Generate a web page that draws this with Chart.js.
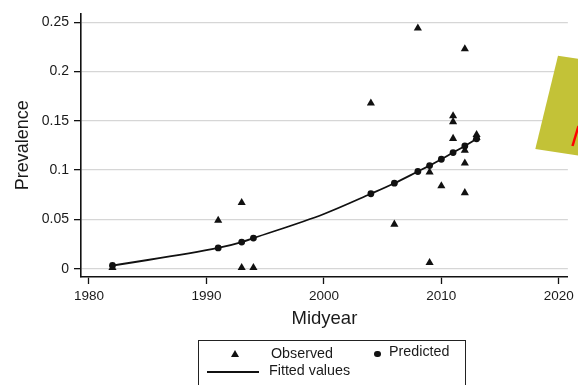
<!DOCTYPE html>
<html>
<head>
<meta charset="utf-8">
<script src="https://cdn.jsdelivr.net/npm/chart.js@4"></script>
<style>
  body { margin: 0; background: #fff; font-family: "Liberation Sans", Arial, sans-serif; }
  #wrap { position: relative; width: 578px; height: 385px; overflow: hidden; }
  #myChart { position: absolute; left: 0; top: 0; }
  .lg { position: absolute; color: #1a1a1a; font-size: 14.3px; line-height: 14px; white-space: nowrap; }
  #legendBox { position: absolute; left: 198px; top: 340px; width: 268px; height: 60px; border: 1.3px solid #222; box-sizing: border-box; }
  #tri { position: absolute; left: 230.5px; top: 350px; width: 0; height: 0;
         border-left: 4px solid transparent; border-right: 4px solid transparent; border-bottom: 7px solid #111; }
  #dot { position: absolute; left: 374px; top: 350.5px; width: 6.5px; height: 6.5px; border-radius: 50%; background: #111; }
  #ln { position: absolute; left: 207px; top: 371.3px; width: 52px; height: 2px; background: #111; }
  #deco { position: absolute; left: 0; top: 0; pointer-events: none; }
</style>
</head>
<body>
<div id="wrap">
  <canvas id="myChart" width="578" height="385"></canvas>
  <svg id="deco" width="578" height="385">
    <polygon points="558,55.7 610,63.5 610,160.2 535.3,149" fill="#c3c237"/>
    <line x1="572.5" y1="146" x2="578.5" y2="126" stroke="#ff0000" stroke-width="2.5"/>
  </svg>
  <div id="legendBox"></div>
  <div id="tri"></div>
  <span class="lg" style="left:271px; top:345.5px;">Observed</span>
  <div id="dot"></div>
  <span class="lg" style="left:389px; top:344px;">Predicted</span>
  <div id="ln"></div>
  <span class="lg" style="left:269px; top:363.3px;">Fitted values</span>
</div>
<script>
// observed prevalence (triangles)
let obsYears = [1982, 1991, 1993, 1993, 1994, 2004, 2006, 2008, 2009, 2009,
                2010, 2011, 2011, 2011, 2012, 2012, 2012, 2012, 2013, 2013];
let obsVals  = [0.001, 0.049, 0.067, 0.001, 0.001, 0.168, 0.045, 0.244, 0.098, 0.006,
                0.084, 0.155, 0.149, 0.132, 0.223, 0.120, 0.107, 0.077, 0.136, 0.133];
// predicted (dots)
let predYears = [1982, 1991, 1993, 1994, 2004, 2006, 2008, 2009, 2010, 2011, 2012, 2013];
let predVals  = [0.0032, 0.021, 0.027, 0.031, 0.076, 0.0867, 0.0986, 0.1046, 0.111, 0.1178, 0.1245, 0.1317];
// fitted curve
let fitYears = [1982, 1991, 1993, 1994, 2000, 2004, 2006, 2008, 2009, 2010, 2011, 2012, 2013];
let fitVals  = [0.0032, 0.021, 0.027, 0.031, 0.0555, 0.076, 0.0867, 0.0986, 0.1046, 0.111, 0.1178, 0.1245, 0.1317];

let xTicks = [1980, 1990, 2000, 2010, 2020];
let yTicks = [0, 0.05, 0.1, 0.15, 0.2, 0.25];
let yTickLabels = ['0', '0.05', '0.1', '0.15', '0.2', '0.25'];

function pairs(xs, ys){
    let out = [];
    for(let i=0;i<xs.length;i++){
        out.push({x: xs[i], y: ys[i]});
    }
    return out;
}

const FONT = '"Liberation Sans", Arial, sans-serif';
const INK = '#1a1a1a';

let ctx = document.getElementById('myChart').getContext('2d');
let chart = new Chart(ctx, {
    type: 'scatter',
    data: {
        datasets: [
        { // Observed
            label: 'Observed',
            data: pairs(obsYears, obsVals),
            pointStyle: 'triangle',
            pointRadius: 4.7,
            backgroundColor: '#111',
            borderColor: '#111',
            borderWidth: 0
        },
        { // Predicted
            label: 'Predicted',
            data: pairs(predYears, predVals),
            pointStyle: 'circle',
            pointRadius: 3.4,
            backgroundColor: '#111',
            borderColor: '#111',
            borderWidth: 0
        },
        { // Fitted values
            label: 'Fitted values',
            data: pairs(fitYears, fitVals),
            showLine: true,
            pointRadius: 0,
            borderColor: '#111',
            borderWidth: 1.8,
            cubicInterpolationMode: 'monotone',
            fill: false
        }]
    },
    options: {
        responsive: false,
        animation: false,
        devicePixelRatio: 1,
        layout: { padding: { top: 8, right: 10, left: 0, bottom: 0 } },
        plugins: { legend: { display: false }, tooltip: { enabled: false } },
        scales: {
            x: {
                type: 'linear',
                min: 1979.32,
                max: 2020.77,
                afterBuildTicks: s => { s.ticks = xTicks.map(v => ({value: v})); },
                afterFit: s => { s.height = 108; },
                ticks: {
                    autoSkip: false, maxRotation: 0, padding: 4,
                    color: INK, font: { family: FONT, size: 13.5 },
                    callback: v => String(v)
                },
                grid: { drawOnChartArea: false, drawTicks: true, tickLength: 7, tickColor: '#111', tickWidth: 1.3 },
                border: { color: '#111', width: 1.6 },
                title: { display: true, text: 'Midyear', color: INK,
                         font: { family: FONT, size: 18.5 }, padding: { bottom: 55 } }
            },
            y: {
                type: 'linear',
                min: -0.00845,
                max: 0.259,
                afterBuildTicks: s => { s.ticks = yTicks.map(v => ({value: v})); },
                afterFit: s => { s.width = 81; },
                ticks: {
                    autoSkip: false, padding: 5,
                    color: INK, font: { family: FONT, size: 14 },
                    callback: (v, i) => yTickLabels[i]
                },
                grid: { color: '#d6d6d6', lineWidth: 1.3, drawTicks: true, tickLength: 7, tickColor: '#111', tickWidth: 1.3 },
                border: { color: '#111', width: 1.6 },
                title: { display: true, text: 'Prevalence', color: INK,
                         font: { family: FONT, size: 18 }, padding: { top: 12 } }
            }
        }
    }
});
</script>
</body>
</html>
